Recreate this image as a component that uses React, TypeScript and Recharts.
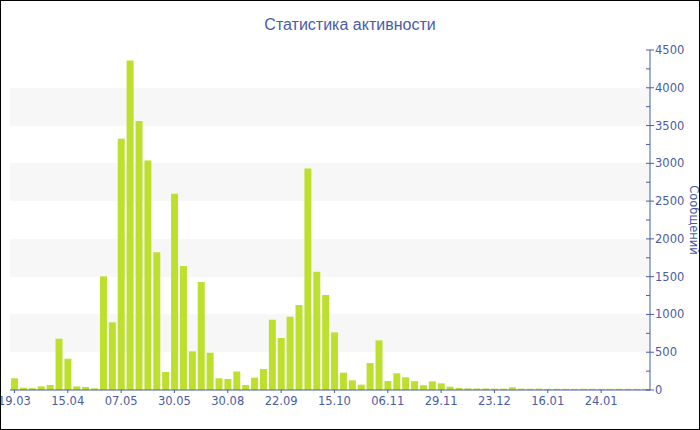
import { Bar, BarChart, CartesianGrid, XAxis, YAxis } from 'recharts'

const tickLabels = ['19.03', '15.04', '07.05', '30.05', '30.08', '22.09', '15.10', '06.11', '29.11', '23.12', '16.01', '24.01']

// messages per week slot
const messages = [
  155, 30, 22, 48, 66, 679, 414, 48, 40, 22,
  1504, 896, 3325, 4362, 3559, 3039, 1822, 238, 2597, 1640,
  512, 1429, 494, 155, 146, 245, 66, 163, 278, 930,
  688, 970, 1125, 2933, 1565, 1257, 763, 229, 128, 71,
  357, 657, 119, 221, 168, 117, 64, 115, 88, 44,
  26, 22, 20, 20, 18, 18, 35, 18, 16, 18,
  15, 16, 15, 14, 16, 15, 14, 15, 16, 15,
  14, 15,
]

const yTicks = [0, 250, 500, 750, 1000, 1250, 1500, 1750, 2000, 2250, 2500, 2750, 3000, 3250, 3500, 3750, 4000, 4250, 4500]
const bandLines = [0, 500, 1000, 1500, 2000, 2500, 3000, 3500, 4000, 4500]

const data = messages.map((value, i) => ({ slot: i, value }))

const blue = '#4a5ca6'
const font = '"DejaVu Sans", Verdana, sans-serif'

function YTick(props: any) {
  const { x, y, payload } = props
  const major = payload.value % 500 === 0
  const ax = x - 5
  return (
    <g>
      <line x1={ax - 4} x2={major ? ax + 4 : ax} y1={y} y2={y} stroke={blue} strokeWidth={1} />
      {major && (
        <text x={x} y={y} dy={4} fontSize={11.5} fill={blue} fontFamily={font}>
          {payload.value}
        </text>
      )}
    </g>
  )
}

function YLabel(props: any) {
  const vb = props.viewBox
  const x = vb.x + 40
  const y = vb.y + vb.height / 2
  return (
    <text x={x} y={y} transform={`rotate(90, ${x}, ${y})`} textAnchor="middle" fontSize={11.5} fill={blue} fontFamily={font}>
      Сообщений
    </text>
  )
}

export default function App() {
  return (
    <div style={{ position: 'absolute', left: 0, top: 0, width: 700, height: 430, background: '#fff' }}>
      <div
        style={{
          position: 'absolute',
          left: 0,
          top: 16,
          width: 700,
          textAlign: 'center',
          fontFamily: '"Liberation Sans", Arial, sans-serif',
          fontSize: 16,
          color: blue,
        }}
      >
        Статистика активности
      </div>
      <BarChart width={700} height={430} data={data} margin={{ top: 50, right: 0, bottom: 10, left: 10 }} barCategoryGap="12%">
        <CartesianGrid
          stroke="transparent"
          vertical={false}
          horizontalValues={bandLines}
          horizontalFill={['#ffffff', '#f7f7f7']}
        />
        <XAxis
          dataKey="slot"
          interval={5}
          tickFormatter={(v: number) => tickLabels[v / 6] ?? ''}
          axisLine={{ stroke: blue }}
          tickLine={{ stroke: blue }}
          tickSize={3}
          tickMargin={4}
          height={30}
          tick={{ fill: blue, fontSize: 11.5, fontFamily: font }}
        />
        <YAxis
          orientation="right"
          domain={[0, 4500]}
          ticks={yTicks}
          interval={0}
          width={50}
          axisLine={{ stroke: blue }}
          tickLine={false}
          tickSize={4}
          tickMargin={1}
          tick={<YTick />}
          label={<YLabel />}
        />
        <Bar dataKey="value" fill="#bde02f" isAnimationActive={false} />
      </BarChart>
      <div
        style={{
          position: 'absolute',
          left: 0,
          top: 0,
          width: 700,
          height: 430,
          boxSizing: 'border-box',
          border: '1px solid #000',
          pointerEvents: 'none',
        }}
      />
    </div>
  )
}
